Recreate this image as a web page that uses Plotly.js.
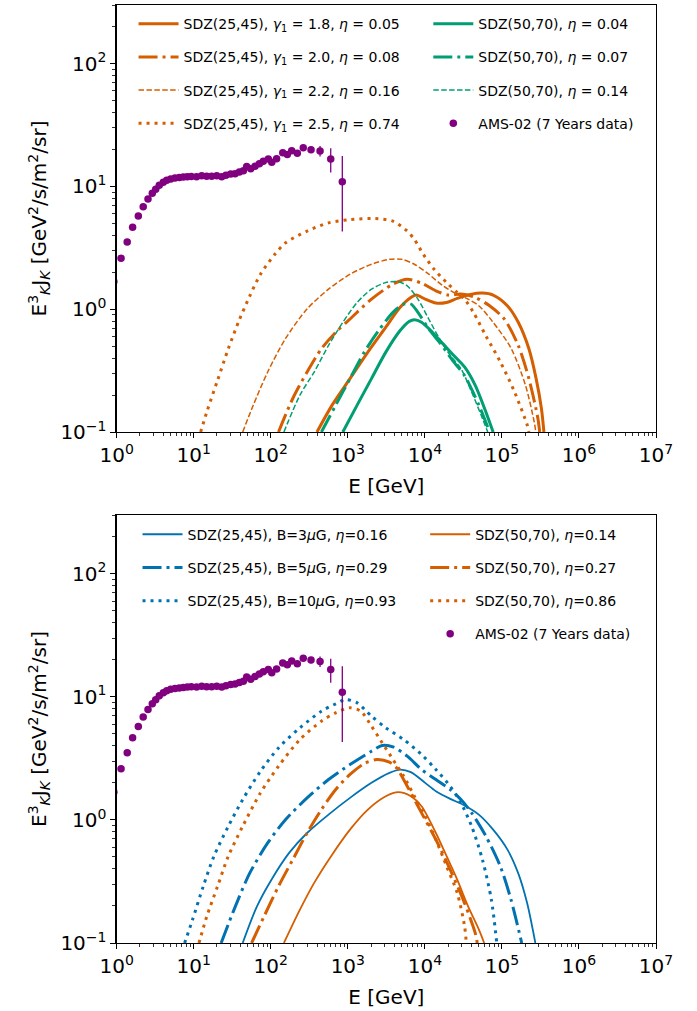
<!DOCTYPE html>
<html>
<head>
<meta charset="utf-8">
<script src="https://cdn.plot.ly/plotly-3.0.1.min.js"></script>
<style>html,body{margin:0;padding:0;background:#fff;}#chart{width:697px;height:1011px;}</style>
</head>
<body>
<div id="chart"></div>
<script>
// ---------- AMS-02 (7 years) data ----------
const amsE = [0.92, 1.14, 1.37, 1.61, 1.91, 2.21, 2.55, 2.90, 3.21, 3.57, 4.03, 4.46, 5.02, 5.71, 6.50, 7.33, 8.26, 9.3, 10.9, 12.7, 14.7, 17.1, 19.9, 23.1, 26.2, 30.2, 34.4, 39.1, 44.1, 48.7, 54.9, 62.5, 71.1, 80.0, 92.9, 103, 119, 143, 164, 187, 221, 264, 333, 436, 600, 848];
const amsFlux = [1.68, 2.60, 3.52, 4.64, 5.74, 6.84, 7.89, 8.79, 9.47, 10.2, 10.8, 11.2, 11.5, 11.7, 11.8, 11.9, 12.0, 12.05, 12.0, 12.2, 12.1, 12.1, 12.2, 12.0, 12.3, 12.6, 12.7, 13.1, 13.4, 14.5, 13.9, 14.6, 15.3, 16.0, 16.7, 15.7, 16.8, 18.8, 18.2, 19.5, 18.6, 20.6, 19.9, 19.4, 16.7, 10.9];
const amsErrUp = [0.05, 0.05, 0.05, 0.06, 0.07, 0.08, 0.09, 0.1, 0.1, 0.1, 0.1, 0.1, 0.1, 0.1, 0.1, 0.1, 0.1, 0.1, 0.1, 0.12, 0.12, 0.13, 0.14, 0.15, 0.17, 0.19, 0.2, 0.22, 0.25, 0.28, 0.3, 0.33, 0.37, 0.4, 0.45, 0.5, 0.55, 0.6, 0.65, 0.7, 0.8, 0.9, 1.2, 1.9, 3.7, 6.8];
const amsErrDown = [0.05, 0.05, 0.05, 0.06, 0.07, 0.08, 0.09, 0.1, 0.1, 0.1, 0.1, 0.1, 0.1, 0.1, 0.1, 0.1, 0.1, 0.1, 0.1, 0.12, 0.12, 0.13, 0.14, 0.15, 0.17, 0.19, 0.2, 0.22, 0.25, 0.28, 0.3, 0.33, 0.37, 0.4, 0.45, 0.5, 0.55, 0.6, 0.65, 0.7, 0.8, 0.9, 1.2, 1.9, 3.7, 6.6];

// ---------- Top panel: SDZ(25,45) with different gamma_1, SDZ(50,70) ----------
const topG18E = [398, 625, 1067, 1820, 3112, 4775, 6577, 7727, 10093, 13900, 19143, 26303, 40458, 55847, 76913, 117490, 162930, 223872, 277971, 325837, 350752];
const topG18F = [0.1, 0.1656, 0.272, 0.447, 0.713, 1.035, 1.247, 1.303, 1.208, 1.122, 1.135, 1.225, 1.327, 1.352, 1.303, 1.067, 0.782, 0.476, 0.272, 0.155, 0.1];
const topG20E = [126, 193, 296, 454, 697, 1067, 2028, 3855, 5902, 9057, 13900, 20230, 29376, 45082, 69183, 107152, 162930, 223872, 293089, 309030];
const topG20F = [0.1, 0.1875, 0.308, 0.476, 0.649, 0.832, 1.208, 1.600, 1.754, 1.629, 1.413, 1.303, 1.327, 1.247, 1.067, 0.832, 0.507, 0.272, 0.129, 0.1];
const topG22E = [43.2, 59.4, 91.2, 155, 295, 562, 1072, 2028, 3467, 5012, 7311, 11220, 17219, 26303, 36308, 50119, 76913, 131826, 202300, 263027, 275423];
const topG22F = [0.1, 0.166, 0.308, 0.575, 1.003, 1.455, 1.928, 2.323, 2.547, 2.547, 2.323, 1.928, 1.549, 1.324, 1.208, 1.067, 0.782, 0.479, 0.240, 0.120, 0.1];
const topG25E = [12.3, 14.8, 20.4, 28.1, 38.7, 53.5, 73.6, 113, 156, 296, 562, 1067, 2254, 3855, 5902, 7311, 9550, 13183, 19143, 26303, 32734, 42658, 61660, 95500, 146218, 213800, 223872];
const topG25F = [0.1, 0.146, 0.264, 0.476, 0.807, 1.285, 1.928, 2.80, 3.475, 4.325, 5.05, 5.37, 5.47, 5.21, 4.325, 3.70, 2.80, 2.113, 1.648, 1.368, 1.208, 0.942, 0.610, 0.372, 0.211, 0.113, 0.1];
const topS004E = [861, 1321, 2028, 3112, 4775, 6237, 7311, 9057, 12503, 17219, 23714, 32734, 45082, 62087, 76913];
const topS004F = [0.1, 0.1656, 0.272, 0.447, 0.670, 0.794, 0.822, 0.782, 0.649, 0.522, 0.420, 0.339, 0.240, 0.145, 0.1];
const topS007E = [454, 697, 1067, 1637, 2512, 3855, 5309, 6577, 8128, 11220, 15488, 23714, 32734, 50119, 69183];
const topS007F = [0.1, 0.1656, 0.272, 0.447, 0.670, 0.942, 1.102, 1.102, 0.942, 0.692, 0.537, 0.372, 0.288, 0.166, 0.1];
const topS014E = [148, 239, 366, 562, 861, 1321, 2028, 3112, 4519, 5902, 8128, 11220, 15488, 21380, 29376, 40458, 55847, 65464];
const topS014F = [0.1, 0.1995, 0.308, 0.507, 0.782, 1.135, 1.455, 1.648, 1.671, 1.549, 1.208, 0.832, 0.575, 0.420, 0.328, 0.212, 0.129, 0.1];

// ---------- Bottom panel: different magnetic fields ----------
const botB3E = [43.2, 66.2, 102, 173, 296, 562, 1067, 2028, 3467, 4775, 6577, 10093, 13900, 21330, 32734, 50119, 76913, 118032, 162181, 212324, 271644];
const botB3F = [0.1, 0.1986, 0.327, 0.540, 0.783, 1.105, 1.510, 2.000, 2.410, 2.564, 2.443, 2.000, 1.710, 1.483, 1.309, 1.104, 0.834, 0.574, 0.371, 0.211, 0.1];
const botB5E = [22.7, 34.8, 53.5, 91.2, 156, 296, 562, 1067, 2028, 2793, 3855, 5902, 9057, 13900, 21330, 29376, 40458, 62087, 95280, 131220, 180717];
const botB5F = [0.1, 0.1995, 0.371, 0.650, 1.007, 1.510, 2.128, 2.818, 3.614, 4.018, 3.917, 3.296, 2.564, 2.128, 1.766, 1.462, 1.140, 0.736, 0.420, 0.225, 0.1];
const botB10E = [7.62, 9.66, 13.3, 18.3, 28.1, 43.2, 73.6, 126, 239, 454, 697, 940, 1321, 2028, 3112, 5309, 9057, 13900, 21330, 29376, 40458, 55847, 72946, 85704];
const botB10F = [0.1, 0.155, 0.289, 0.507, 0.888, 1.462, 2.489, 3.846, 5.598, 7.638, 8.770, 9.506, 8.933, 6.966, 5.598, 4.498, 3.396, 2.564, 1.879, 1.374, 0.888, 0.476, 0.225, 0.1];
const botS014E = [148, 239, 366, 625, 1067, 1820, 3112, 4519, 6577, 9057, 13900, 19143, 26303, 36392, 50119, 58884];
const botS014F = [0.1, 0.1866, 0.308, 0.522, 0.834, 1.213, 1.556, 1.679, 1.556, 1.291, 0.783, 0.507, 0.327, 0.1986, 0.129, 0.1];
const botS027E = [56.4, 82.0, 126, 193, 296, 454, 697, 1067, 1637, 2382, 3467, 4285, 5902, 9057, 13900, 21330, 32734, 45082, 47863];
const botS027F = [0.1, 0.165, 0.289, 0.476, 0.783, 1.213, 1.766, 2.339, 2.871, 3.097, 2.944, 2.649, 1.879, 1.140, 0.692, 0.394, 0.211, 0.1205, 0.1];
const botS086E = [11.7, 14.8, 20.4, 28.1, 43.2, 73.6, 126, 239, 454, 697, 1067, 1472, 2028, 2793, 3855, 5309, 7311, 10093, 13900, 19143, 26303, 32734, 34514];
const botS086F = [0.1, 0.165, 0.289, 0.507, 0.888, 1.660, 2.729, 4.498, 6.339, 7.413, 8.147, 7.638, 5.781, 4.227, 3.097, 2.265, 1.556, 1.072, 0.692, 0.420, 0.255, 0.137, 0.1];

// ---------- Tick labels / legend labels ----------
const xTickVals = [1, 10, 100, 1e3, 1e4, 1e5, 1e6, 1e7];
const xTickText = ['10<sup>0</sup>', '10<sup>1</sup>', '10<sup>2</sup>', '10<sup>3</sup>', '10<sup>4</sup>', '10<sup>5</sup>', '10<sup>6</sup>', '10<sup>7</sup>'];
const yTickVals = [0.1, 1, 10, 100];
const yTickText = ['10<sup>\u22121</sup>', '10<sup>0</sup>', '10<sup>1</sup>', '10<sup>2</sup>'];
const topNames = [
  'SDZ(25,45), <i>\u03b3</i><sub>1</sub> = 1.8, <i>\u03b7</i> = 0.05',
  'SDZ(25,45), <i>\u03b3</i><sub>1</sub> = 2.0, <i>\u03b7</i> = 0.08',
  'SDZ(25,45), <i>\u03b3</i><sub>1</sub> = 2.2, <i>\u03b7</i> = 0.16',
  'SDZ(25,45), <i>\u03b3</i><sub>1</sub> = 2.5, <i>\u03b7</i> = 0.74',
  'SDZ(50,70), <i>\u03b7</i> = 0.04',
  'SDZ(50,70), <i>\u03b7</i> = 0.07',
  'SDZ(50,70), <i>\u03b7</i> = 0.14'
];
const botNames = [
  'SDZ(25,45), B=3<i>\u03bc</i>G, <i>\u03b7</i>=0.16',
  'SDZ(25,45), B=5<i>\u03bc</i>G, <i>\u03b7</i>=0.29',
  'SDZ(25,45), B=10<i>\u03bc</i>G, <i>\u03b7</i>=0.93',
  'SDZ(50,70), <i>\u03b7</i>=0.14',
  'SDZ(50,70), <i>\u03b7</i>=0.27',
  'SDZ(50,70), <i>\u03b7</i>=0.86'
];
const amsName = 'AMS-02 (7 Years data)';

const ORANGE = '#d55e00', GREEN = '#009e73', BLUE = '#0072b2', PURPLE = '#800080';
const SOLID = 'solid', DASHDOT = '19px,5px,3px,5px', DASHED = '5.5px,2.4px', DOTTED = '3px,5px';

let g = 0;
function line(x, y, name, color, width, dash, xa, ya, leg) {
  g += 1;
  return {type: 'scatter', mode: 'lines', x: x, y: y, name: name, xaxis: xa, yaxis: ya,
    legend: leg, legendgroup: 'g' + g,
    line: {color: color, width: width, dash: dash, shape: 'spline', smoothing: 0.8}};
}
function ams(xa, ya, leg) {
  g += 1;
  return {type: 'scatter', mode: 'markers', x: amsE, y: amsFlux, name: amsName, xaxis: xa, yaxis: ya,
    legend: leg, legendgroup: 'g' + g,
    marker: {color: PURPLE, size: 7.5},
    error_y: {type: 'data', symmetric: false, array: amsErrUp, arrayminus: amsErrDown, color: PURPLE, thickness: 1.3, width: 0}};
}

const traces = [
  line(topG18E, topG18F, topNames[0], ORANGE, 3, SOLID, 'x', 'y', 'legend'),
  line(topG20E, topG20F, topNames[1], ORANGE, 3, DASHDOT, 'x', 'y', 'legend'),
  line(topG22E, topG22F, topNames[2], ORANGE, 1.5, DASHED, 'x', 'y', 'legend'),
  line(topG25E, topG25F, topNames[3], ORANGE, 3, DOTTED, 'x', 'y', 'legend'),
  line(topS004E, topS004F, topNames[4], GREEN, 3, SOLID, 'x', 'y', 'legend2'),
  line(topS007E, topS007F, topNames[5], GREEN, 3, DASHDOT, 'x', 'y', 'legend2'),
  line(topS014E, topS014F, topNames[6], GREEN, 1.5, DASHED, 'x', 'y', 'legend2'),
  ams('x', 'y', 'legend2'),
  line(botB3E, botB3F, botNames[0], BLUE, 1.8, SOLID, 'x2', 'y2', 'legend3'),
  line(botB5E, botB5F, botNames[1], BLUE, 3, DASHDOT, 'x2', 'y2', 'legend3'),
  line(botB10E, botB10F, botNames[2], BLUE, 3, DOTTED, 'x2', 'y2', 'legend3'),
  line(botS014E, botS014F, botNames[3], ORANGE, 1.8, SOLID, 'x2', 'y2', 'legend4'),
  line(botS027E, botS027F, botNames[4], ORANGE, 3, DASHDOT, 'x2', 'y2', 'legend4'),
  line(botS086E, botS086F, botNames[5], ORANGE, 3, DOTTED, 'x2', 'y2', 'legend4'),
  ams('x2', 'y2', 'legend4')
];

// minor tick positions (2..9 x 10^k)
const xMinor = [], yMinor = [];
for (let k = 0; k < 7; k++) for (let m = 2; m <= 9; m++) xMinor.push(m * Math.pow(10, k));
for (let k = -1; k < 3; k++) for (let m = 2; m <= 9; m++) yMinor.push(m * Math.pow(10, k));

const FONT = 'DejaVu Sans, Liberation Sans, sans-serif';
const yTitle = 'E<sup>3</sup><sub><i>K</i></sub>J<sub><i>K</i></sub> [GeV<sup>2</sup>/s/m<sup>2</sup>/sr]';

function xAxis(domain, anchor) {
  return {type: 'log', range: [0, 7], domain: domain, anchor: anchor,
    showline: true, linecolor: '#000', linewidth: 1.2, mirror: true,
    showgrid: false, zeroline: false,
    ticks: 'outside', ticklen: 5, tickwidth: 1, tickcolor: '#000',
    tickmode: 'array', tickvals: xTickVals, ticktext: xTickText,
    tickfont: {family: FONT, size: 20, color: '#000'},
    minor: {tickmode: 'array', tickvals: xMinor, ticks: 'outside', ticklen: 3, tickwidth: 0.8, tickcolor: '#000', showgrid: false},
    title: {text: 'E [GeV]', font: {family: FONT, size: 20, color: '#000'}, standoff: 12},
    automargin: false};
}
function yAxis(domain, anchor) {
  return {type: 'log', range: [-1, Math.log10(300)], domain: domain, anchor: anchor,
    showline: true, linecolor: '#000', linewidth: 1.2, mirror: true,
    showgrid: false, zeroline: false,
    ticks: 'outside', ticklen: 5, tickwidth: 1, tickcolor: '#000',
    tickmode: 'array', tickvals: yTickVals, ticktext: yTickText,
    tickfont: {family: FONT, size: 20, color: '#000'},
    minor: {tickmode: 'array', tickvals: yMinor, ticks: 'outside', ticklen: 3, tickwidth: 0.8, tickcolor: '#000', showgrid: false},
    title: {text: yTitle, font: {family: FONT, size: 20, color: '#000'}, standoff: 8},
    automargin: false};
}
function legendAt(x, ytop) {
  return {x: x, y: ytop, xanchor: 'left', yanchor: 'top', bgcolor: 'rgba(0,0,0,0)', borderwidth: 0,
    font: {family: FONT, size: 14, color: '#000'}, tracegroupgap: 12, itemwidth: 40, traceorder: 'grouped'};
}

const layout = {
  width: 697, height: 1011, margin: {l: 0, r: 0, t: 0, b: 0},
  paper_bgcolor: '#fff', plot_bgcolor: '#fff', font: {family: FONT, color: '#000'},
  showlegend: true,
  xaxis: xAxis([0.1674, 0.9412], 'y'),
  yaxis: yAxis([0.5727, 0.99505], 'x'),
  xaxis2: xAxis([0.1674, 0.9412], 'y2'),
  yaxis2: yAxis([0.06726, 0.4906], 'x2'),
  legend: legendAt(0.1916, 0.992),
  legend2: legendAt(0.6145, 0.992),
  legend3: legendAt(0.1973, 0.487),
  legend4: legendAt(0.610, 0.487)
};

Plotly.newPlot('chart', traces, layout, {displayModeBar: false, staticPlot: true});
</script>
</body>
</html>
